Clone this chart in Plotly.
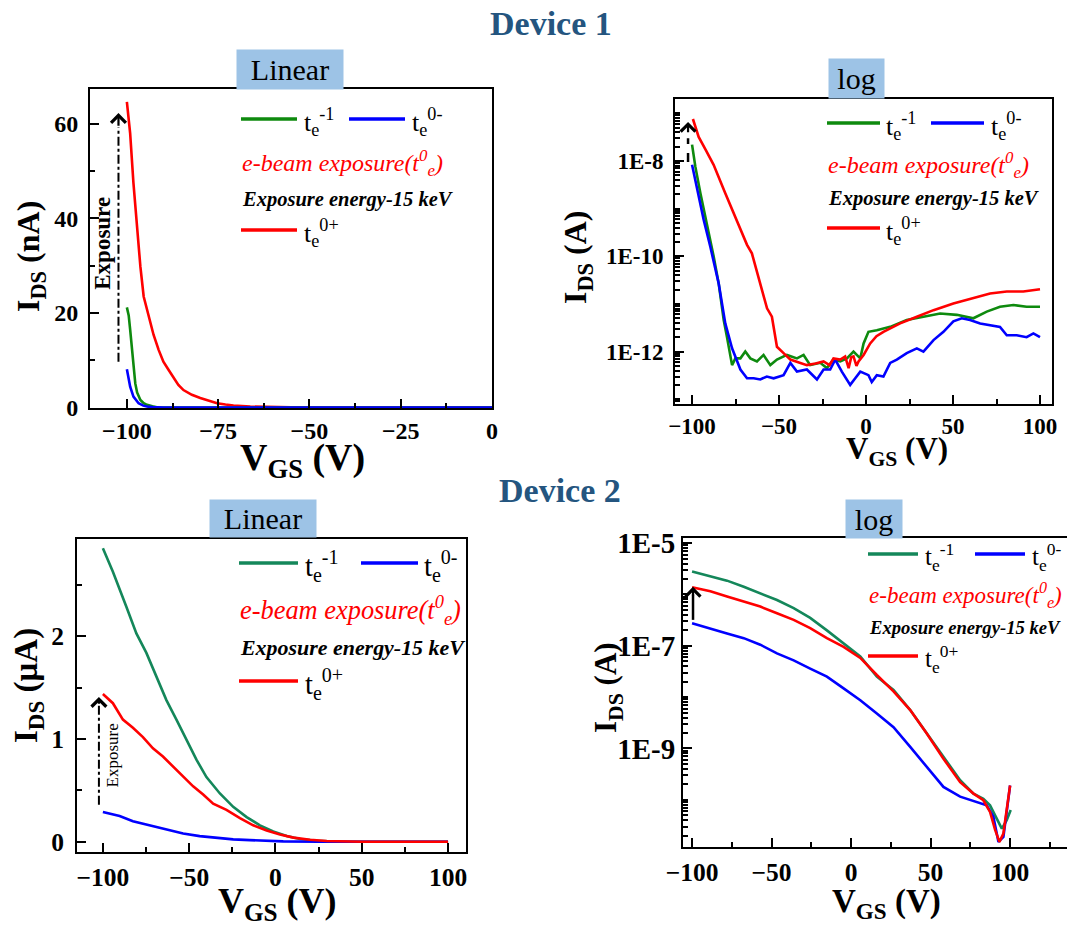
import math
import plotly.graph_objects as go

W, H = 1067, 925
SERIF = "Liberation Serif, Times New Roman, serif"

# ======================= DATA =======================
# Device 1 - linear scale (I_DS in nA)
d1_lin_v_red = [-100.0, -99.1, -98.2, -97.3, -96.3, -95.4, -94.0, -92.7, -91.3, -90.0, -88.6, -87.2,
                -85.9, -84.5, -82.2, -79.9, -77.6, -75.3, -73.0, -70.8, -66.2, -61.6, -55.0, -45.0,
                -30.0, -15.0, 0.0]
d1_lin_i_red = [64.7, 58.0, 47.5, 38.3, 29.8, 23.5, 19.3, 15.4, 12.2, 9.7, 8.0, 6.2,
                4.8, 3.7, 2.7, 2.0, 1.4, 0.9, 0.63, 0.42, 0.2, 0.08, 0.03, 0.01,
                0.0, 0.0, 0.0]
d1_lin_v_green = [-100.0, -99.5, -99.1, -98.6, -98.2, -97.7, -97.2, -96.3, -95.4, -94.5, -93.0, -91.8,
                  -89.0, -80.0, -60.0, -40.0, -20.0, 0.0]
d1_lin_i_green = [21.2, 19.5, 16.5, 12.2, 8.5, 5.1, 3.2, 1.6, 0.9, 0.56, 0.25, 0.07,
                  0.02, 0.0, 0.0, 0.0, 0.0, 0.0]
d1_lin_v_blue = [-100.0, -99.5, -99.1, -98.2, -97.3, -96.8, -95.5, -94.5, -93.0, -90.0, -80.0, -60.0,
                 -40.0, -20.0, 0.0]
d1_lin_i_blue = [8.1, 6.2, 4.4, 2.3, 1.3, 0.9, 0.4, 0.2, 0.08, 0.02, 0.0, 0.0,
                 0.0, 0.0, 0.0]

# Device 1 - log scale (I_DS in A)
d1_log_v_red = [-99.5, -96.2, -92.0, -87.6, -80.9, -74.2, -68.4, -65.6, -60.8, -56.9, -54.1, -51.2,
                -47.4, -43.5, -39.0, -34.0, -29.0, -24.4, -21.0, -18.7, -14.8, -12.0, -10.0, -8.5,
                -7.2, -5.5, -4.3, -1.4, 2.4, 6.0, 10.0, 19.6, 29.2, 38.8, 50.2, 61.7,
                71.3, 80.9, 90.4, 100.0]
d1_log_i_red = [7.6e-8, 3.2e-8, 1.66e-8, 8.3e-9, 2.1e-9, 5.8e-10, 1.74e-10, 1.15e-10, 2.7e-11, 8.1e-12, 5.4e-12, 1.26e-12,
                9.3e-13, 6.8e-13, 6.0e-13, 5.2e-13, 5.6e-13, 6.2e-13, 5.2e-13, 7.2e-13, 6.8e-13, 7.9e-13, 4.5e-13, 7.6e-13,
                7.9e-13, 5.0e-13, 6.2e-13, 8.5e-13, 1.48e-12, 2.1e-12, 2.6e-12, 3.9e-12, 5.4e-12, 7.4e-12, 1.02e-11, 1.32e-11,
                1.66e-11, 1.82e-11, 1.82e-11, 2.04e-11]
d1_log_v_green = [-100.0, -98.1, -95.2, -91.4, -87.6, -84.7, -81.8, -79.9, -77.0, -75.1, -72.2, -69.4,
                  -66.5, -62.7, -58.9, -55.0, -51.2, -45.5, -39.7, -35.9, -32.1, -26.3, -22.5, -18.7,
                  -14.8, -11.0, -7.2, -3.3, -1.4, 1.4, 6.2, 13.9, 23.4, 33.0, 42.6, 52.2,
                  61.7, 69.4, 77.0, 84.7, 92.3, 100.0]
d1_log_i_green = [2.2e-8, 7.6e-9, 2.1e-9, 4.9e-10, 1.0e-10, 2.7e-11, 4.6e-12, 2.0e-12, 5.2e-13, 7.2e-13, 7.2e-13, 1.0e-12,
                  7.2e-13, 6.2e-13, 8.5e-13, 5.2e-13, 6.8e-13, 8.5e-13, 7.2e-13, 8.5e-13, 5.2e-13, 5.8e-13, 4.5e-13, 6.8e-13,
                  6.2e-13, 7.2e-13, 1.0e-12, 7.2e-13, 1.48e-12, 2.6e-12, 2.8e-12, 3.3e-12, 4.6e-12, 5.4e-12, 6.3e-12, 5.9e-12,
                  5.0e-12, 6.9e-12, 8.7e-12, 9.5e-12, 8.7e-12, 8.7e-12]
d1_log_v_blue = [-100.0, -97.1, -93.3, -89.5, -84.7, -80.9, -77.0, -72.2, -68.4, -64.6, -60.8, -57.0,
                 -53.1, -47.4, -43.5, -39.7, -34.0, -28.2, -24.4, -20.6, -17.7, -13.9, -9.1, -6.2,
                 -3.3, 1.4, 3.3, 6.2, 10.0, 13.9, 17.7, 23.4, 29.2, 33.0, 38.8, 44.5,
                 50.2, 55.0, 59.8, 65.6, 71.3, 77.0, 80.9, 86.6, 92.3, 96.2, 100.0]
d1_log_i_blue = [8.3e-9, 2.5e-9, 5.8e-10, 1.58e-10, 2.7e-11, 3.9e-12, 1.17e-12, 4.2e-13, 2.75e-13, 2.75e-13, 2.6e-13, 3.0e-13,
                 2.75e-13, 3.2e-13, 5.8e-13, 3.8e-13, 4.2e-13, 2.6e-13, 4.2e-13, 4.2e-13, 6.8e-13, 3.8e-13, 2.0e-13, 2.75e-13,
                 3.8e-13, 3.2e-13, 2.3e-13, 3.2e-13, 3.0e-13, 5.8e-13, 6.8e-13, 9.3e-13, 1.17e-12, 1.0e-12, 1.74e-12, 2.6e-12,
                 4.3e-12, 5.0e-12, 4.6e-12, 3.9e-12, 3.6e-12, 3.3e-12, 2.2e-12, 2.2e-12, 2.0e-12, 2.4e-12, 2.0e-12]

# Device 2 - linear scale (I_DS in uA)
d2_lin_v_green = [-100.0, -94.2, -86.4, -80.6, -74.8, -69.0, -63.2, -57.4, -51.6, -45.8, -40.0, -32.2,
                  -24.5, -16.7, -9.0, -1.3, 6.5, 14.2, 23.9, 33.6, 50.0, 75.0, 100.0]
d2_lin_i_green = [2.86, 2.63, 2.29, 2.03, 1.84, 1.61, 1.38, 1.19, 0.99, 0.80, 0.63, 0.47,
                  0.34, 0.24, 0.16, 0.10, 0.055, 0.026, 0.01, 0.003, 0.0, 0.0, 0.0]
d2_lin_v_red = [-100.0, -94.2, -88.4, -82.6, -76.8, -71.0, -65.2, -59.3, -53.5, -47.7, -41.9, -36.1,
                -28.4, -20.6, -12.9, -5.1, 2.6, 10.4, 20.0, 29.7, 50.0, 75.0, 100.0]
d2_lin_i_red = [1.44, 1.35, 1.19, 1.11, 1.02, 0.91, 0.83, 0.73, 0.63, 0.54, 0.46, 0.37,
                0.31, 0.23, 0.16, 0.11, 0.07, 0.04, 0.02, 0.007, 0.0, 0.0, 0.0]
d2_lin_v_blue = [-100.0, -90.3, -82.6, -72.9, -63.2, -53.5, -43.9, -34.2, -24.5, -14.8, -5.1, 4.5,
                 25.0, 50.0, 75.0, 100.0]
d2_lin_i_blue = [0.29, 0.25, 0.20, 0.16, 0.12, 0.08, 0.055, 0.036, 0.023, 0.016, 0.01, 0.004,
                 0.0, 0.0, 0.0, 0.0]

# Device 2 - log scale (I_DS in A)
d2_log_v_green = [-100.0, -88.5, -78.0, -67.5, -57.1, -46.6, -36.1, -25.7, -15.2, -4.7, 5.8, 16.2,
                  26.7, 37.2, 47.6, 58.1, 68.6, 77.0, 83.2, 87.4, 91.6, 94.8, 97.9, 100.4]
d2_log_i_green = [2.8e-6, 2.3e-6, 1.86e-6, 1.41e-6, 1.05e-6, 7.8e-7, 5.4e-7, 3.5e-7, 2.0e-7, 1.12e-7, 6.2e-8, 2.5e-8,
                  1.38e-8, 5.6e-9, 1.95e-9, 6.9e-10, 2.4e-10, 1.32e-10, 1.05e-10, 7.8e-11, 4.3e-11, 2.75e-11, 4.0e-11, 6.3e-11]
d2_log_v_red = [-100.0, -88.5, -78.0, -67.5, -57.1, -46.6, -36.1, -25.7, -15.2, -4.7, 5.8, 16.2,
                26.7, 37.2, 47.6, 58.1, 68.6, 77.0, 83.2, 87.4, 90.6, 93.3, 95.8, 100.0]
d2_log_i_red = [1.38e-6, 1.15e-6, 9.1e-7, 7.2e-7, 5.8e-7, 4.3e-7, 3.2e-7, 2.2e-7, 1.41e-7, 9.5e-8, 5.8e-8, 2.7e-8,
                1.29e-8, 5.6e-9, 1.95e-9, 6.3e-10, 2.2e-10, 1.32e-10, 9.8e-11, 5.8e-11, 2.6e-11, 1.51e-11, 2.2e-11, 1.9e-10]
d2_log_v_blue = [-100.0, -88.5, -78.0, -67.5, -57.1, -46.6, -36.1, -25.7, -15.2, -4.7, 5.8, 16.2,
                 26.7, 37.2, 47.6, 58.1, 68.6, 79.1, 85.3, 89.5, 92.7, 95.8, 100.0]
d2_log_i_blue = [2.75e-7, 2.2e-7, 1.74e-7, 1.41e-7, 1.05e-7, 7.1e-8, 5.2e-8, 3.6e-8, 2.5e-8, 1.48e-8, 8.7e-9, 4.8e-9,
                 2.6e-9, 1.07e-9, 4.4e-10, 1.78e-10, 1.15e-10, 9.1e-11, 7.8e-11, 4.7e-11, 1.51e-11, 1.9e-11, 1.9e-10]

# "Exposure" arrows (x, y_start, y_tip) in data units
arrow1 = (-102.3, 9.7, 62.3)
arrow2 = (-102.3, 9.5e-9, 6.6e-8)
arrow3 = (-102.3, 0.36, 1.41)
arrow4 = (-99.4, 3.2e-7, 1.41e-6)

# tick labels
d1_log_ticks = [1e-12, 1e-10, 1e-8]
d1_log_ticktext = ["1E-12", "1E-10", "1E-8"]
d2_log_ticks = [1e-9, 1e-7, 1e-5]
d2_log_ticktext = ["1E-9", "1E-7", "1E-5"]

# legend / text labels
lbl_before = "t<sub>e</sub><sup>-1</sup>"
lbl_dark = "t<sub>e</sub><sup>0-</sup>"
lbl_after = "t<sub>e</sub><sup>0+</sup>"
lbl_ebeam = "e-beam exposure(t<sup>0</sup><sub>e</sub>)"
lbl_energy = "Exposure energy-15 keV"

# ======================= STYLE =======================
GREEN1 = "#0E8A0E"
GREEN2 = "#14875A"
BLUE = "#0000FF"
RED = "#FF0000"
BOXBLUE = "#9DC3E6"
TITLEBLUE = "#24557F"


def px(x):
    return x / W


def py(y):
    return 1 - y / H


def F(size, color="black", weight="normal", style="normal"):
    return dict(family=SERIF, size=size, color=color, weight=weight, style=style)


fig = go.Figure()


def line(x, y, color, ax, width=2.6, dash="solid"):
    fig.add_trace(go.Scatter(x=x, y=y, mode="lines", xaxis=ax[0], yaxis=ax[1],
                             line=dict(color=color, width=width, dash=dash),
                             showlegend=False, hoverinfo="skip"))


# Panel 1
A1 = ("x", "y")
line(d1_lin_v_red, d1_lin_i_red, RED, A1)
line(d1_lin_v_green, d1_lin_i_green, GREEN1, A1)
line(d1_lin_v_blue, d1_lin_i_blue, BLUE, A1)
line([arrow1[0], arrow1[0]], [arrow1[1], arrow1[2] - 3], "black", A1, width=2, dash="dashdot")
# Panel 2
A2 = ("x2", "y2")
line(d1_log_v_green, d1_log_i_green, GREEN1, A2)
line(d1_log_v_blue, d1_log_i_blue, BLUE, A2)
line(d1_log_v_red, d1_log_i_red, RED, A2)
line([arrow2[0], arrow2[0]], [arrow2[1], 3.0e-8], "black", A2, width=2.5, dash="dash")
# Panel 3
A3 = ("x3", "y3")
line(d2_lin_v_green, d2_lin_i_green, GREEN2, A3)
line(d2_lin_v_blue, d2_lin_i_blue, BLUE, A3)
line(d2_lin_v_red, d2_lin_i_red, RED, A3)
line([arrow3[0], arrow3[0]], [arrow3[1], arrow3[2] - 0.05], "black", A3, width=2, dash="dashdot")
# Panel 4
A4 = ("x4", "y4")
line(d2_log_v_green, d2_log_i_green, GREEN2, A4)
line(d2_log_v_blue, d2_log_i_blue, BLUE, A4)
line(d2_log_v_red, d2_log_i_red, RED, A4)
line([arrow4[0], arrow4[0]], [arrow4[1], 1.0e-6], "black", A4, width=2.5)

# ---------- axes ----------
boxes = {  # pixel boxes: x0, x1, ytop, ybottom
    1: (90, 492, 89, 408),
    2: (675, 1052, 99, 404),
    3: (77, 466, 539, 852),
    4: (683, 1067, 538, 847),
}


def dom(b):
    x0, x1, yt, yb = b
    return [px(x0), min(px(x1), 1.0)], [py(yb), py(yt)]


def log_minor(dmin, dmax, majors):
    vals = []
    for d in range(dmin, dmax + 1):
        for k in range(1, 10):
            v = float(f"{k}e{d}")
            if v not in majors:
                vals.append(v)
    return vals


common = dict(showgrid=False, zeroline=False, showline=True, linecolor="black", linewidth=2,
              ticks="inside", ticklen=9, tickwidth=1.8, tickcolor="black", automargin=False)


def minor_lin(d):
    return dict(dtick=d, ticks="inside", ticklen=5, tickwidth=1.8, tickcolor="black")


axes = {}
xd, yd = dom(boxes[1])
axes["xaxis"] = dict(domain=xd, anchor="y", range=[-110.1, 0], tick0=0, dtick=25, mirror=True,
                     minor=minor_lin(12.5), tickfont=F(24, weight="bold"), ticklabelstandoff=0, **common)
axes["yaxis"] = dict(domain=yd, anchor="x", range=[-0.1, 67.4], tick0=0, dtick=20, mirror=True,
                     minor=minor_lin(10), tickfont=F(24, weight="bold"), ticklabelstandoff=5, **common)
xd, yd = dom(boxes[2])
axes["xaxis2"] = dict(domain=xd, anchor="y2", range=[-109.8, 106.9], tick0=0, dtick=50, mirror=True,
                      minor=minor_lin(25), tickfont=F(23, weight="bold"), ticklabelstandoff=0, **common)
axes["yaxis2"] = dict(domain=yd, anchor="x2", type="log", range=[-13.1, -6.7], mirror=True,
                      tickmode="array", tickvals=d1_log_ticks, ticktext=d1_log_ticktext,
                      minor=dict(tickmode="array", tickvals=log_minor(-14, -7, d1_log_ticks),
                                 ticks="inside", ticklen=5, tickwidth=1.5, tickcolor="black"),
                      tickfont=F(23, weight="bold"), ticklabelstandoff=5, **common)
xd, yd = dom(boxes[3])
axes["xaxis3"] = dict(domain=xd, anchor="y3", range=[-115, 110.4], tick0=0, dtick=50, mirror=True,
                      minor=minor_lin(25), tickfont=F(25.5, weight="bold"), ticklabelstandoff=1, **common)
axes["yaxis3"] = dict(domain=yd, anchor="x3", range=[-0.1, 2.95], tick0=0, dtick=1, mirror=True,
                      minor=minor_lin(0.5), tickfont=F(25.5, weight="bold"), ticklabelstandoff=6, **common)
xd, yd = dom(boxes[4])
axes["xaxis4"] = dict(domain=xd, anchor="y4", range=[-105.7, 135.8], tick0=0, dtick=50, mirror=True,
                      minor=minor_lin(25), tickfont=F(25.5, weight="bold"), ticklabelstandoff=1, **common)
axes["yaxis4"] = dict(domain=yd, anchor="x4", type="log", range=[-10.92, -4.9], mirror=False,
                      tickmode="array", tickvals=d2_log_ticks, ticktext=d2_log_ticktext,
                      minor=dict(tickmode="array", tickvals=log_minor(-11, -5, d2_log_ticks),
                                 ticks="inside", ticklen=5, tickwidth=1.5, tickcolor="black"),
                      tickfont=F(29, weight="bold"), ticklabelstandoff=0, **common)

ann = []
shapes = []


def A(text, x, y, font, xanchor="left", yanchor="middle", angle=0, **kw):
    ann.append(dict(text=text, x=px(x), y=py(y), xref="paper", yref="paper", showarrow=False,
                    xanchor=xanchor, yanchor=yanchor, textangle=angle, font=font, borderpad=0, **kw))


# Titles
A("Device 1", 551, 24, F(34, TITLEBLUE, weight="bold"), xanchor="center")
A("Device 2", 560, 490, F(34, TITLEBLUE, weight="bold"), xanchor="center")

# Scale boxes
for txt, cx, cy, w, h in [("Linear", 290, 69.5, 106, 39), ("log", 856.5, 78.5, 55, 39),
                          ("Linear", 263, 518.5, 106, 37), ("log", 874, 519, 56, 38)]:
    A(txt, cx, cy, F(30), xanchor="center", bgcolor=BOXBLUE, width=w, height=h)

# Axis titles
for cx, cy, size in [(302, 460, 38), (897, 451, 31), (277, 903, 36), (886, 903, 33)]:
    A("V<sub>GS</sub> (V)", cx, cy, F(size, weight="bold"), xanchor="center")
for cx, cy, txt, size in [(30, 257, "I<sub>DS</sub> (nA)", 32), (577, 257, "I<sub>DS</sub> (A)", 32),
                          (28, 686, "I<sub>DS</sub> (\u03bcA)", 33), (608, 688, "I<sub>DS</sub> (A)", 31)]:
    A(txt, cx, cy, F(size, weight="bold"), xanchor="center", angle=-90)


# Legends
def swatch(x0, x1, y, color):
    shapes.append(dict(type="line", xref="paper", yref="paper", x0=px(x0), x1=px(x1), y0=py(y), y1=py(y),
                       line=dict(color=color, width=3.5)))


def legend(gx0, gx1, gy, gtx, bx0, bx1, btx, eby, eny, ry, s, se, green):
    swatch(gx0, gx1, gy, green)
    A(lbl_before, gtx, gy + 3 * s, F(26 * s))
    swatch(bx0, bx1, gy, BLUE)
    A(lbl_dark, btx, gy + 3 * s, F(26 * s))
    A(lbl_ebeam, gx0, eby, F(24 * s, RED, style="italic"))
    A(lbl_energy, gx0, eny, F(20.5 * se, weight="bold", style="italic"))
    swatch(gx0, gx1, ry, RED)
    A(lbl_after, gtx, ry + 3 * s, F(26 * s))


legend(241, 297, 119, 303, 349, 405, 411, 163, 199, 230, 1.0, 1.0, GREEN1)
legend(827, 880, 123, 885, 931, 984, 990, 165, 198, 228, 1.0, 1.0, GREEN1)
legend(239, 298, 563, 304, 361, 418, 423, 610, 647, 681, 1.1, 1.07, GREEN2)
legend(868, 918, 554, 924, 975, 1025, 1031, 595, 627, 656, 0.96, 0.91, GREEN2)

# Arrow heads and "Exposure" labels (data coordinates)
for (ax_x, ax_y0, ax_tip), xr, yr, islog, tail in [
        (arrow1, "x", "y", False, 3.0), (arrow2, "x2", "y2", True, 0.25),
        (arrow3, "x3", "y3", False, 0.08), (arrow4, "x4", "y4", True, 0.2)]:
    tip = math.log10(ax_tip) if islog else ax_tip
    ann.append(dict(x=ax_x, y=tip, ax=ax_x, ay=tip - tail, xref=xr, yref=yr, axref=xr, ayref=yr,
                    text="", showarrow=True, arrowhead=4, arrowsize=1.3, arrowwidth=2.2,
                    arrowcolor="black"))
ann.append(dict(text="Exposure", x=-106.9, y=34.8, xref="x", yref="y", showarrow=False,
                textangle=-90, font=F(23, weight="bold"), xanchor="center", yanchor="middle"))
ann.append(dict(text="Exposure", x=-94.2, y=0.84, xref="x3", yref="y3", showarrow=False,
                textangle=-90, font=F(17), xanchor="center", yanchor="middle"))

fig.update_layout(width=W, height=H, margin=dict(l=0, r=0, t=0, b=0, pad=0, autoexpand=False),
                  paper_bgcolor="white", plot_bgcolor="white", showlegend=False,
                  annotations=ann, shapes=shapes, **axes)

fig.write_html("out.html", config={"displayModeBar": False},
               post_script="document.body.style.margin='0';")
